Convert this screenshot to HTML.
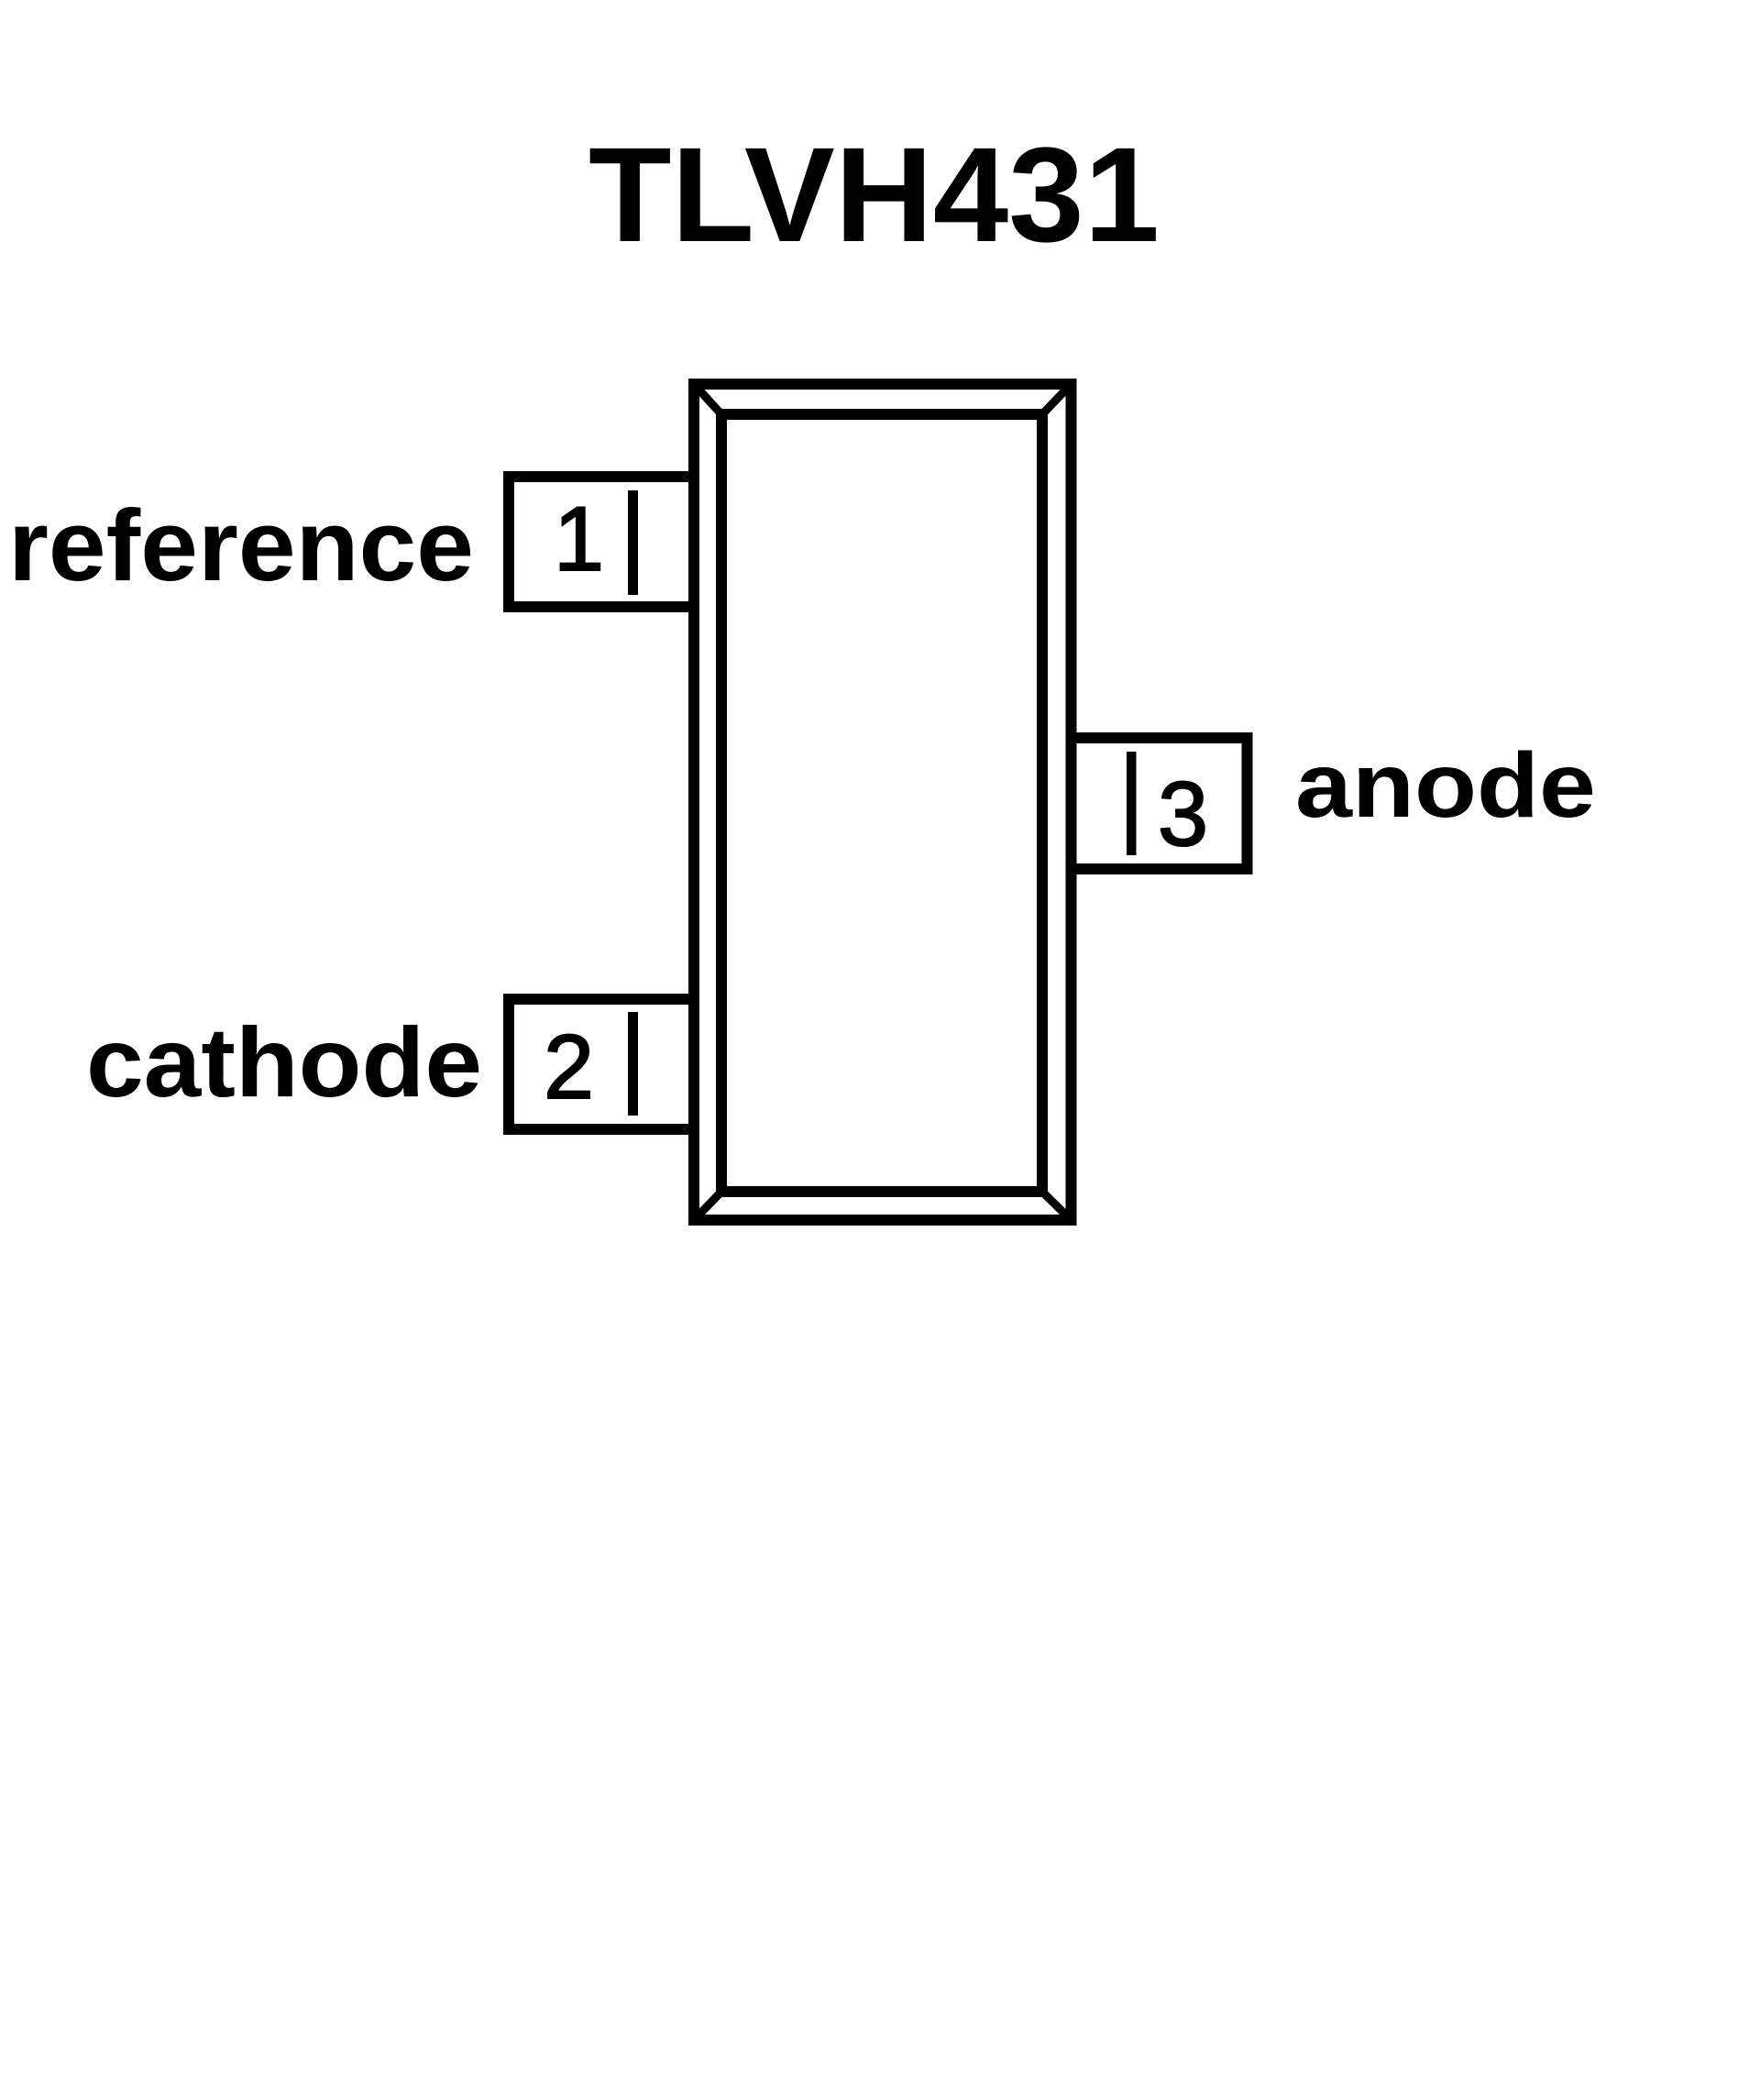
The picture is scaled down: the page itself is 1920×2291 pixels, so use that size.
<!DOCTYPE html>
<html><head><meta charset="utf-8"><style>
html,body{margin:0;padding:0;background:#fff;}
svg{display:block;}
</style></head><body>
<svg width="1920" height="2291" viewBox="0 0 1920 2291" xmlns="http://www.w3.org/2000/svg">
<rect width="1920" height="2291" fill="#fff"/>
<g fill="none" stroke="#000" stroke-width="12" stroke-linecap="square">
  <rect x="757" y="419" width="411.5" height="912"/>
  <rect x="787" y="452" width="350" height="848"/>
  <path d="M757 419 L787 452 M1168.5 419 L1137 452 M757 1331 L787 1300 M1168.5 1331 L1137 1300" stroke-width="9"/>
  <path d="M752 520 H555 V662 H752"/>
  <path d="M752 1090 H555 V1232 H752"/>
  <path d="M1174 805 H1360.5 V948 H1174"/>
</g>
<g fill="#000">
  <rect x="685" y="535" width="11" height="114"/>
  <rect x="685" y="1104" width="11" height="113"/>
  <rect x="1229" y="820" width="10.5" height="113"/>
</g>
<g font-family="Liberation Sans, sans-serif" fill="#000">
  <text x="642" y="263" font-size="147" font-weight="bold" textLength="623" lengthAdjust="spacingAndGlyphs">TLVH431</text>
  <text x="9" y="633" font-size="110" font-weight="bold" textLength="508" lengthAdjust="spacingAndGlyphs">reference</text>
  <text x="94" y="1196" font-size="108" font-weight="bold" textLength="432" lengthAdjust="spacingAndGlyphs">cathode</text>
  <text x="1413" y="891" font-size="100" font-weight="bold" textLength="328" lengthAdjust="spacingAndGlyphs">anode</text>
  <text x="604" y="622" font-size="99" stroke="#000" stroke-width="2">1</text>
  <text x="593" y="1198" font-size="99" stroke="#000" stroke-width="2">2</text>
  <text x="1263" y="922" font-size="99" stroke="#000" stroke-width="2">3</text>
</g>
</svg>
</body></html>
